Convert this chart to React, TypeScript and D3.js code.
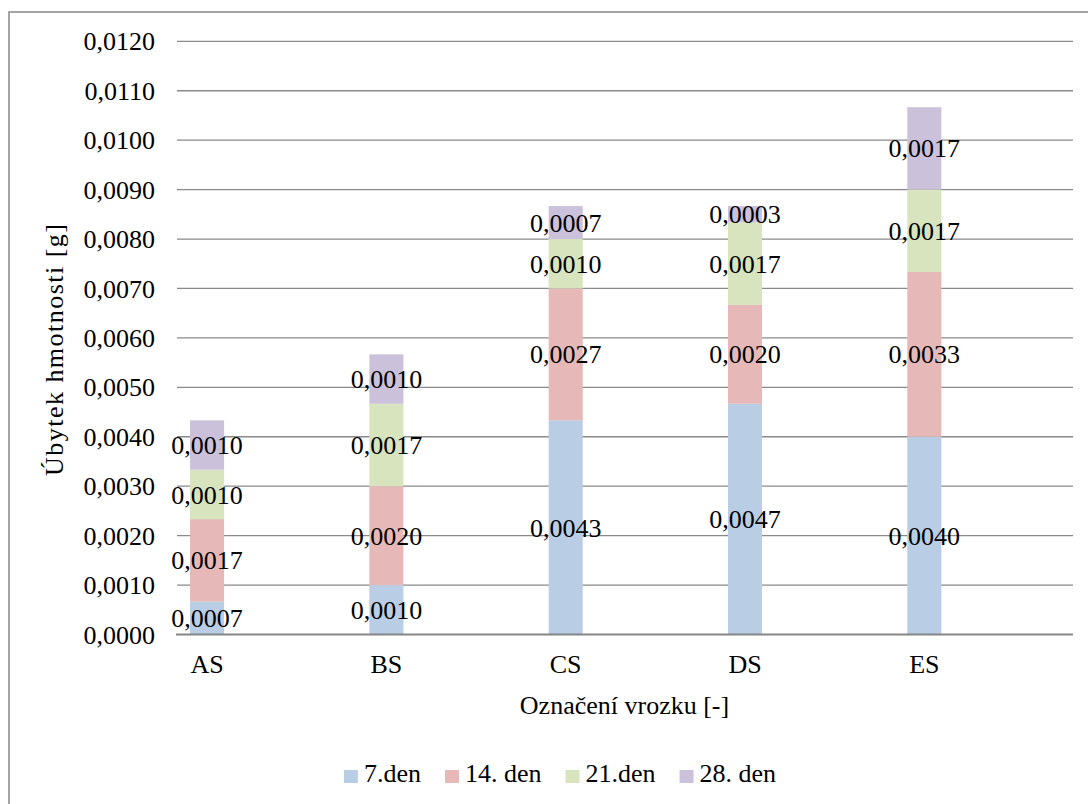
import React, { useEffect, useRef } from "react";
import * as d3 from "d3";

// Sample designations (x axis)
const categories = ["AS", "BS", "CS", "DS", "ES"];
// Mass loss per period [g], stacked in order
const day7 = [0.000667, 0.001, 0.004333, 0.004667, 0.004];
const day14 = [0.001667, 0.002, 0.002667, 0.002, 0.003333];
const day21 = [0.001, 0.001667, 0.001, 0.001667, 0.001667];
const day28 = [0.001, 0.001, 0.000667, 0.000333, 0.001667];
const seriesNames = ["7.den", "14. den", "21.den", "28. den"];
const seriesColors = ["#B9CDE5", "#E6B9B8", "#D7E4BD", "#CCC1DA"];
const yTicks = [0, 0.001, 0.002, 0.003, 0.004, 0.005, 0.006, 0.007, 0.008, 0.009, 0.01, 0.011, 0.012];

const W = 1088;
const H = 804;
const FONT = '"Liberation Serif", "Times New Roman", Times, "DejaVu Serif", serif';

const fmt = (v: number) => d3.format(".4f")(v).replace(".", ",");

export default function App() {
  const ref = useRef<SVGSVGElement | null>(null);

  useEffect(() => {
    const svg = d3.select(ref.current);
    svg.selectAll("*").remove();

    const plotLeft = 176;
    const plotRight = 1073;
    const y = d3.scaleLinear().domain([0, 0.012]).range([634.5, 41.3]);
    const x = d3.scaleBand<string>().domain(categories).range([117.4, 1014]).padding(0);
    const barW = x.bandwidth() * 0.19;

    const rows = categories.map((c, i) => ({
      cat: c,
      s0: day7[i],
      s1: day14[i],
      s2: day21[i],
      s3: day28[i],
    }));
    const keys = ["s0", "s1", "s2", "s3"];
    const stacked = d3.stack<any>().keys(keys)(rows);

    const root = svg.append("g").style("font-family", FONT).style("font-size", "26px");

    // chart frame
    root
      .append("rect")
      .attr("x", 9)
      .attr("y", 12)
      .attr("width", 1102)
      .attr("height", 820)
      .attr("fill", "white")
      .attr("stroke", "#868686")
      .attr("stroke-width", 1.5);

    // gridlines
    root
      .append("g")
      .selectAll("line")
      .data(yTicks.filter((t) => t > 0))
      .join("line")
      .attr("x1", plotLeft + 1)
      .attr("x2", plotRight)
      .attr("y1", (d) => y(d))
      .attr("y2", (d) => y(d))
      .attr("stroke", "#8a8a8a")
      .attr("stroke-width", 1.3);

    // y tick labels
    root
      .append("g")
      .selectAll("text")
      .data(yTicks)
      .join("text")
      .attr("x", 155)
      .attr("y", (d) => y(d))
      .attr("dy", "0.35em")
      .attr("text-anchor", "end")
      .attr("fill", "#000")
      .text((d) => fmt(d));

    // bars
    const layers = root
      .append("g")
      .selectAll("g")
      .data(stacked)
      .join("g")
      .attr("fill", (_d, i) => seriesColors[i]);

    layers
      .selectAll("rect")
      .data((d) => d)
      .join("rect")
      .attr("x", (d: any) => (x(d.data.cat) as number) + x.bandwidth() / 2 - barW / 2)
      .attr("y", (d: any) => y(d[1]))
      .attr("width", barW)
      .attr("height", (d: any) => y(d[0]) - y(d[1]));

    // zero axis line
    root
      .append("line")
      .attr("x1", plotLeft)
      .attr("x2", plotRight)
      .attr("y1", y(0))
      .attr("y2", y(0))
      .attr("stroke", "#868686")
      .attr("stroke-width", 2.2);

    // value labels
    const labelG = root.append("g");
    stacked.forEach((layer) => {
      labelG
        .append("g")
        .selectAll("text")
        .data(layer)
        .join("text")
        .attr("x", (d: any) => (x(d.data.cat) as number) + x.bandwidth() / 2)
        .attr("y", (d: any) => (y(d[0]) + y(d[1])) / 2)
        .attr("dy", "0.35em")
        .attr("text-anchor", "middle")
        .attr("fill", "#000")
        .text((d: any) => fmt(d[1] - d[0]));
    });

    // category labels
    root
      .append("g")
      .selectAll("text")
      .data(categories)
      .join("text")
      .attr("x", (d) => (x(d) as number) + x.bandwidth() / 2)
      .attr("y", 673)
      .attr("text-anchor", "middle")
      .attr("fill", "#000")
      .text((d) => d);

    // axis titles
    root
      .append("text")
      .attr("x", (plotLeft + plotRight) / 2)
      .attr("y", 714)
      .attr("text-anchor", "middle")
      .attr("fill", "#000")
      .text("Označení vrozku [-]");

    root
      .append("text")
      .attr("transform", "translate(63, 350) rotate(-90)")
      .attr("text-anchor", "middle")
      .attr("textLength", 252)
      .attr("lengthAdjust", "spacing")
      .attr("fill", "#000")
      .text("Úbytek hmotnosti [g]");

    // legend
    const legend = root.append("g");
    const items = seriesNames.map((name, i) => {
      const g = legend.append("g");
      g.append("rect")
        .attr("x", 0)
        .attr("y", -12)
        .attr("width", 14)
        .attr("height", 13)
        .attr("fill", seriesColors[i]);
      const t = g
        .append("text")
        .attr("x", 20)
        .attr("y", 0)
        .attr("fill", "#000")
        .text(name);
      const w = (t.node() as SVGTextElement).getComputedTextLength();
      return { g, w: 20 + w };
    });
    const gap = 24;
    const total = d3.sum(items, (d) => d.w) + gap * (items.length - 1);
    let cx = 560 - total / 2;
    items.forEach((it) => {
      it.g.attr("transform", `translate(${cx}, 782)`);
      cx += it.w + gap;
    });
  }, []);

  return (
    <svg
      ref={ref}
      width={W}
      height={H}
      style={{ position: "absolute", left: 0, top: 0, background: "white" }}
    />
  );
}
